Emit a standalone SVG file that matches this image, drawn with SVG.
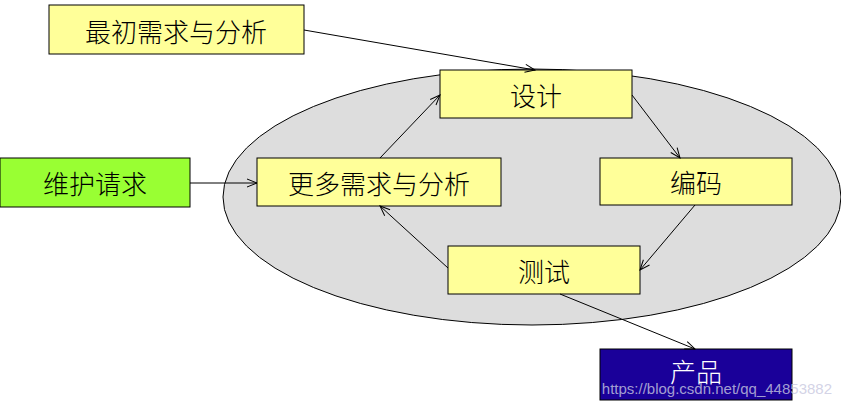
<svg xmlns="http://www.w3.org/2000/svg" width="841" height="411" viewBox="0 0 841 411">
<defs>
<marker id="a" markerWidth="12" markerHeight="10" refX="11" refY="5" orient="auto" markerUnits="userSpaceOnUse">
<path d="M1,1 L11,5 L1,9" fill="none" stroke="#000" stroke-width="1"/>
</marker>
<style>
.b{stroke:#000;stroke-width:1}
.y{fill:#ffff99}
.t{font-family:"Noto Sans CJK SC",sans-serif;font-weight:300;font-size:26px;text-anchor:middle;dominant-baseline:central}
.c{stroke:#000;stroke-width:1;fill:none;marker-end:url(#a)}
</style>
</defs>
<rect width="841" height="411" fill="#fff"/>
<ellipse cx="532" cy="197" rx="309" ry="128" fill="#dddddd" stroke="#000"/>
<g id="n1"><rect class="b y" x="49" y="5" width="255" height="49"/><text class="t" x="176" y="30">最初需求与分析</text></g>
<g id="n2"><rect class="b y" x="440" y="70" width="192" height="48"/><text class="t" x="536" y="94">设计</text></g>
<g id="n3"><rect class="b y" x="257" y="158" width="244" height="48"/><text class="t" x="379" y="182">更多需求与分析</text></g>
<g id="n4"><rect class="b y" x="600" y="158" width="192" height="47"/><text class="t" x="696" y="181">编码</text></g>
<g id="n5"><rect class="b" fill="#99ff33" x="0" y="158" width="190" height="49"/><text class="t" x="95" y="182">维护请求</text></g>
<g id="n6"><rect class="b y" x="448" y="246" width="192" height="48"/><text class="t" x="544" y="270">测试</text></g>
<g id="n7"><rect class="b" fill="#1a0099" x="600" y="349" width="192" height="51"/><text class="t" x="696" y="370" fill="#fff">产品</text></g>
<g id="connectors">
<line class="c" x1="304" y1="30" x2="535" y2="70"/>
<line class="c" x1="632" y1="95" x2="680" y2="158"/>
<line class="c" x1="695" y1="205" x2="640" y2="270"/>
<line class="c" x1="448" y1="268" x2="380" y2="206"/>
<line class="c" x1="380" y1="158" x2="440" y2="95"/>
<line class="c" x1="190" y1="183" x2="257" y2="183"/>
<line class="c" x1="560" y1="294" x2="695" y2="349"/>
</g>
<text x="832" y="394" font-family="Liberation Sans,sans-serif" font-size="15" fill="#c8c8e0" fill-opacity="0.8" text-anchor="end">https://blog.csdn.net/qq_44853882</text>
</svg>
